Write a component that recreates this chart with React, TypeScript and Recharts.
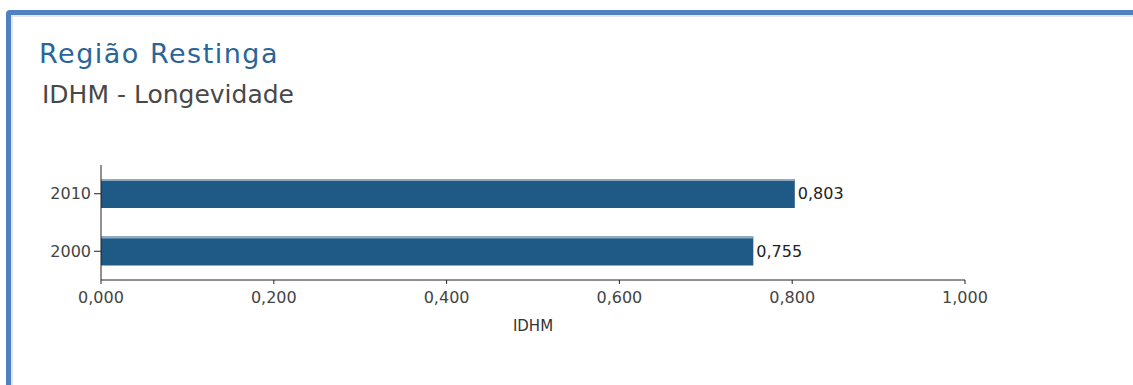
import { Bar, BarChart, LabelList, XAxis, YAxis } from 'recharts'

const years = ['2010', '2000']
const idhmLongevidade = [0.803, 0.755]
const xTicks = [0, 0.2, 0.4, 0.6, 0.8, 1.0]

const data = years.map((year, i) => ({ year, value: idhmLongevidade[i] }))

const fmt = (v: number) => v.toFixed(3).replace('.', ',')
const font = '"DejaVu Sans", Verdana, sans-serif'

// bar with a light edge on top, as in the original
const BarShape = (props: any) => {
  const { x, y, width, height } = props
  return (
    <g>
      <rect x={x} y={y} width={width} height={height} fill="#1f5a86" />
      <rect x={x} y={y} width={width} height={2} fill="#8fa9c2" />
    </g>
  )
}

export default function App() {
  return (
    <div style={{ position: 'absolute', left: 0, top: 0, width: 1133, height: 385, overflow: 'hidden', background: '#fff', fontFamily: font }}>
      <div
        style={{
          position: 'absolute',
          left: 6,
          top: 10,
          width: 1200,
          height: 420,
          border: '5px solid #4f81c4',
          borderRadius: 4,
          boxShadow: 'inset 2px 2px 0 #e6e6e6',
        }}
      />
      <div style={{ position: 'absolute', left: 39, top: 38, fontSize: 27, letterSpacing: 1.5, color: '#2a6599', lineHeight: '32px' }}>
        Região Restinga
      </div>
      <div style={{ position: 'absolute', left: 42, top: 80, fontSize: 25, color: '#484848', lineHeight: '30px' }}>
        IDHM - Longevidade
      </div>
      <div style={{ position: 'absolute', left: 0, top: 0 }}>
        <BarChart
          width={1133}
          height={385}
          data={data}
          layout="vertical"
          margin={{ top: 165, right: 168, bottom: 55, left: 0 }}
          barSize={29}
        >
          <XAxis
            type="number"
            domain={[0, 1]}
            ticks={xTicks}
            tickFormatter={fmt}
            height={50}
            stroke="#222"
            tickSize={4}
            tickMargin={8}
            tick={{ fontSize: 16, fill: '#444', fontFamily: font }}
            label={{ value: 'IDHM', position: 'insideTop', offset: 40, fontSize: 15, fill: '#333', fontFamily: font }}
          />
          <YAxis
            type="category"
            dataKey="year"
            width={101}
            stroke="#222"
            tickSize={7}
            tickMargin={3}
            tick={{ fontSize: 16, fill: '#444', fontFamily: font }}
          />
          <Bar dataKey="value" fill="#1f5a86" shape={BarShape} isAnimationActive={false}>
            <LabelList
              dataKey="value"
              position="right"
              offset={3}
              formatter={(v: number) => fmt(v)}
              style={{ fontSize: 16, fill: '#222', fontFamily: font }}
            />
          </Bar>
        </BarChart>
      </div>
    </div>
  )
}
